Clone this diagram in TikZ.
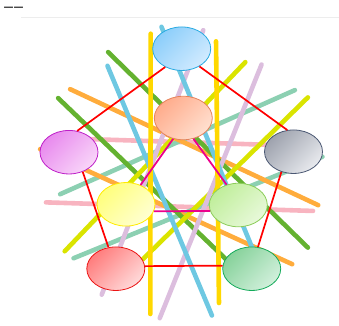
\documentclass[tikz,border=0pt]{standalone}
\usepackage{fontspec}
\newfontfamily\hdrfont{DejaVu Sans}
\usetikzlibrary{shapes.geometric}
\definecolor{cGold}{RGB}{255,216,0}
\definecolor{cSky}{RGB}{110,200,226}
\definecolor{cThis}{RGB}{220,190,222}
\definecolor{cDkGreen}{RGB}{100,178,48}
\definecolor{cOrange}{RGB}{255,172,60}
\definecolor{cLime}{RGB}{218,228,0}
\definecolor{cTeal}{RGB}{140,208,178}
\definecolor{cPink}{RGB}{248,180,192}
% node colours
\definecolor{skyA}{RGB}{140,206,250}\definecolor{skyB}{RGB}{210,235,255}\definecolor{skyD}{RGB}{40,170,225}
\definecolor{orA}{RGB}{255,172,140}\definecolor{orB}{RGB}{255,224,208}\definecolor{orD}{RGB}{230,130,90}
\definecolor{puA}{RGB}{232,138,238}\definecolor{puB}{RGB}{249,214,249}\definecolor{puD}{RGB}{190,30,200}
\definecolor{grA}{RGB}{158,163,174}\definecolor{grB}{RGB}{232,234,238}\definecolor{grD}{RGB}{75,88,115}
\definecolor{yeA}{RGB}{255,255,125}\definecolor{yeB}{RGB}{255,255,210}\definecolor{yeD}{RGB}{255,235,0}
\definecolor{lgA}{RGB}{192,238,155}\definecolor{lgB}{RGB}{232,249,218}\definecolor{lgD}{RGB}{140,205,90}
\definecolor{reA}{RGB}{255,125,125}\definecolor{reB}{RGB}{255,218,218}\definecolor{reD}{RGB}{235,20,20}
\definecolor{gnA}{RGB}{135,210,155}\definecolor{gnB}{RGB}{210,240,220}\definecolor{gnD}{RGB}{20,170,90}
\begin{document}
\begin{tikzpicture}[x=1pt,y=-1pt,
  band/.style={line width=4.6pt,line cap=round,shorten <=2pt,shorten >=2pt},
  blob/.style={ellipse,minimum width=58pt,minimum height=43.5pt,inner sep=0pt,line width=0.8pt,shading angle=45},
  edgeR/.style={red,line width=1.7pt},
  edgeM/.style={magenta,line width=1.8pt}]
\useasboundingbox (0,0) rectangle (339,325);
\node[anchor=west,text=black!80,font=\hdrfont\bfseries\fontsize{10}{10}\selectfont,inner sep=0pt] (hdr) at (3.5,9) {——};
\draw[black!7,line width=0.8pt] (21,17.3) -- (339,17.3);
% bands
\draw[band,cPink] (44,202.3) -- (315,211);
\draw[band,cPink] (70,138.5) -- (290,145.5);
\draw[band,cTeal] (296.7,89.3) -- (58.3,195);
\draw[band,cTeal] (324.3,156) -- (71.7,259);
\draw[band,cOrange] (68.3,88.3) -- (320,206);
\draw[band,cOrange] (38.3,148.3) -- (294,265);
\draw[band,cDkGreen] (106.7,50.7) -- (309.3,249);
\draw[band,cDkGreen] (56.7,96.7) -- (232,265);
\draw[band,cLime] (246.7,60.7) -- (63.3,252.7);
\draw[band,cLime] (309.3,96) -- (141,261);
\draw[band,cThis] (204,28.3) -- (101,296.5);
\draw[band,cThis] (262.3,62.7) -- (159,320);
\draw[band,cSky] (160.7,25) -- (258,262);
\draw[band,cSky] (106.7,64) -- (212.7,317.3);
\draw[band,cGold] (150.7,31.7) -- (150.3,316);
\draw[band,cGold] (216,39.3) -- (219,305);
% nodes
\node[blob,draw=skyD,top color=skyA,bottom color=skyB,shading angle=45] (nTop) at (181.7,48.7) {};
\node[blob,draw=orD,top color=orA,bottom color=orB,shading angle=45] (nOrange) at (183.3,118) {};
\node[blob,draw=puD,top color=puA,bottom color=puB,shading angle=45] (nPurple) at (69,152.2) {};
\node[blob,draw=grD,top color=grA,bottom color=grB,shading angle=45] (nGray) at (293.5,151.7) {};
\node[blob,draw=yeD,top color=yeA,bottom color=yeB,shading angle=45] (nYellow) at (126,204.3) {};
\node[blob,draw=lgD,top color=lgA,bottom color=lgB,shading angle=45] (nLgreen) at (238.3,205) {};
\node[blob,draw=reD,top color=reA,bottom color=reB,shading angle=45] (nRed) at (115.8,268.7) {};
\node[blob,draw=gnD,top color=gnA,bottom color=gnB,shading angle=45] (nGreen) at (251.7,268.7) {};
% connectors
\draw[edgeR] (nTop.228) -- (nPurple.69);
\draw[edgeR] (nTop.315) -- (nGray.106);
\draw[edgeR] (nGray.239) -- (nGreen.74);
\draw[edgeR] (nGreen.174.7) -- (nRed.5.3);
\draw[edgeR] (nRed.109) -- (nPurple.305);
\draw[edgeM] (nOrange.244) -- (nYellow.53);
\draw[edgeM] (nOrange.296) -- (nLgreen.120);
\draw[edgeM] (nYellow.346) -- (nLgreen.192);
\end{tikzpicture}
\end{document}
